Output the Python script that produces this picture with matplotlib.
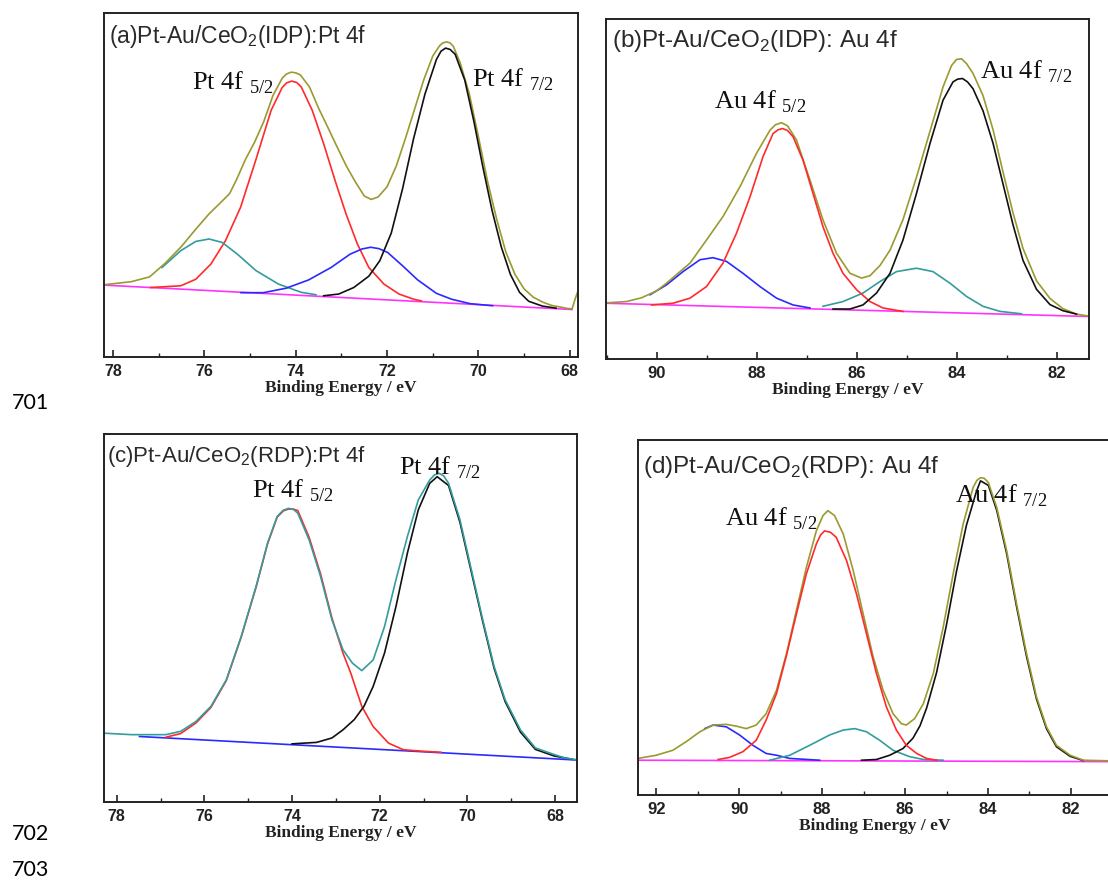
import matplotlib.pyplot as plt
from matplotlib.ticker import MultipleLocator

plt.rcParams['mathtext.fontset'] = 'custom'
plt.rcParams['mathtext.rm'] = 'Liberation Serif'
plt.rcParams['mathtext.sf'] = 'Liberation Sans'

# colours of the fitted curves
c_env = '#9a9a30'
c_red = '#ff2a2a'
c_blk = '#111111'
c_teal = '#339c9c'
c_blue = '#2a2aff'
c_mag = '#ff33ff'

# ---------------- (a) Pt 4f, IDP ----------------
a_base_x = [78.2, 67.95]
a_base_y = [20.9, 13.8]
a_env_x = [78.2, 77.6, 77.2, 76.85, 76.5, 76.2, 75.9, 75.6, 75.45, 75.3, 75.1, 74.9, 74.7, 74.5,
           74.3, 74.2, 74.1, 74.0, 73.9, 73.7, 73.5, 73.3, 73.1, 72.9, 72.7, 72.5, 72.35, 72.2, 72.0,
           71.8, 71.6, 71.4, 71.2, 71.0, 70.85, 70.78, 70.7, 70.62, 70.55, 70.4, 70.2, 70.0, 69.8,
           69.6, 69.4, 69.2, 69.0, 68.8, 68.6, 68.4, 68.2, 68.05, 67.95, 67.88, 67.83]
a_env_y = [21.0, 21.9, 23.3, 27.4, 32.2, 37.0, 41.6, 45.5, 47.5, 51.5, 57.5, 62.5, 68.5, 76.0,
           81.0, 82.3, 82.8, 82.6, 82.0, 78.5, 72.3, 66.8, 61.2, 55.7, 51.0, 46.8, 45.8, 46.5, 49.5,
           55.5, 63.5, 72.0, 80.5, 87.5, 90.5, 91.3, 91.6, 91.3, 90.3, 85.5, 76.5, 64.0, 51.0,
           40.0, 30.5, 24.0, 19.8, 17.4, 16.0, 15.0, 14.5, 14.1, 14.0, 17.0, 18.8]
a_red_x = [77.18, 76.52, 76.19, 75.86, 75.54, 75.21, 74.88, 74.54, 74.3, 74.2, 74.09, 73.98,
           73.88, 73.64, 73.39, 73.14, 72.9, 72.65, 72.4, 72.07, 71.74, 71.42, 71.25]
a_red_y = [20.2, 20.7, 22.6, 27.0, 33.8, 43.5, 57.1, 71.7, 78.3, 79.7, 80.2, 79.8,
           78.5, 71.7, 62.0, 51.3, 41.6, 32.8, 26.0, 21.2, 18.3, 16.8, 16.3]
a_blk_x = [73.39, 73.06, 72.73, 72.4, 72.16, 71.91, 71.66, 71.42, 71.17, 70.92, 70.82, 70.72,
           70.62, 70.51, 70.3, 70.1, 69.9, 69.7, 69.5, 69.3, 69.1, 68.9, 68.6, 68.3]
a_blk_y = [17.8, 18.3, 20.2, 23.5, 28.0, 36.0, 49.0, 63.5, 76.5, 86.5, 88.9, 89.8,
           89.4, 88.0, 80.5, 68.5, 55.0, 42.5, 32.0, 24.0, 18.8, 16.2, 14.8, 14.2]
a_teal_x = [76.93, 76.52, 76.19, 75.9, 75.61, 75.28, 74.87, 74.38, 73.88, 73.56]
a_teal_y = [26.0, 30.9, 33.6, 34.3, 33.3, 29.9, 25.1, 21.2, 18.8, 18.1]
a_blue_x = [75.2, 74.71, 74.21, 73.72, 73.23, 72.81, 72.55, 72.36, 72.18, 71.99, 71.66, 71.33,
            70.92, 70.59, 70.18, 69.69]
a_blue_y = [18.7, 18.7, 20.0, 22.4, 26.0, 29.9, 31.4, 31.9, 31.5, 30.4, 26.5, 22.4,
            18.5, 16.8, 15.5, 14.9]

# ---------------- (b) Au 4f, IDP ----------------
b_base_x = [91.01, 81.35]
b_base_y = [16.4, 12.5]
b_env_x = [91.01, 90.6, 90.3, 90.0, 89.8, 89.33, 89.0, 88.67, 88.33, 88.0, 87.73, 87.62, 87.5,
           87.38, 87.2, 86.93, 86.67, 86.4, 86.13, 85.9, 85.73, 85.53, 85.33, 85.07, 84.8, 84.53,
           84.27, 84.1, 84.0, 83.9, 83.8, 83.67, 83.47, 83.27, 83.07, 82.87, 82.67, 82.4, 82.13,
           81.87, 81.6, 81.35]
b_env_y = [16.5, 16.9, 18.0, 20.0, 22.3, 28.2, 35.0, 41.9, 50.7, 60.5, 67.3, 68.9, 69.5,
           68.6, 64.4, 52.6, 40.9, 31.1, 25.2, 23.8, 24.5, 27.5, 32.0, 41.0, 53.5, 67.0,
           80.0, 86.3, 88.1, 88.3, 86.9, 84.0, 77.5, 67.5, 55.0, 43.0, 32.5, 23.0, 17.8,
           14.8, 13.2, 12.6]
b_red_x = [90.1, 89.67, 89.33, 89.0, 88.67, 88.4, 88.13, 87.87, 87.67, 87.57, 87.48, 87.38,
           87.27, 87.07, 86.87, 86.67, 86.47, 86.27, 86.0, 85.73, 85.47, 85.07]
b_red_y = [15.9, 16.4, 17.9, 21.3, 28.2, 37.0, 47.7, 59.5, 66.3, 67.4, 67.8, 67.2,
           65.4, 58.5, 48.7, 38.9, 31.1, 25.2, 20.4, 16.9, 15.0, 14.0]
b_blue_x = [90.13, 89.8, 89.47, 89.13, 88.87, 88.6, 88.27, 87.93, 87.6, 87.27, 86.93]
b_blue_y = [18.9, 21.8, 25.7, 29.2, 29.8, 28.7, 25.2, 21.3, 17.9, 15.9, 15.0]
b_blk_x = [86.47, 86.13, 85.87, 85.6, 85.33, 85.07, 84.8, 84.53, 84.27, 84.07, 83.98, 83.88,
           83.78, 83.67, 83.47, 83.27, 83.07, 82.87, 82.67, 82.4, 82.13, 81.87, 81.6]
b_blk_y = [14.7, 14.7, 15.9, 19.4, 25.2, 35.0, 48.7, 63.4, 76.1, 81.5, 82.3, 82.5,
           81.5, 79.5, 73.0, 63.5, 51.5, 39.5, 29.0, 20.5, 16.0, 14.2, 13.2]
b_teal_x = [86.67, 86.27, 85.87, 85.53, 85.2, 84.8, 84.47, 84.13, 83.8, 83.47, 83.13, 82.7]
b_teal_y = [15.5, 16.9, 19.4, 22.8, 25.7, 26.7, 25.7, 22.3, 18.4, 15.5, 14.0, 13.3]

# ---------------- (c) Pt 4f, RDP ----------------
c_base_x = [77.48, 67.5]
c_base_y = [17.8, 11.4]
c_env_x = [78.29, 77.66, 76.88, 76.54, 76.19, 75.85, 75.5, 75.16, 74.82, 74.56, 74.34, 74.2,
           74.08, 73.97, 73.87, 73.61, 73.35, 73.09, 72.84, 72.62, 72.41, 72.15, 71.89, 71.63,
           71.37, 71.12, 70.86, 70.75, 70.64, 70.54, 70.43, 70.17, 69.91, 69.65, 69.39, 69.14,
           68.79, 68.45, 68.02, 67.76, 67.5]
c_env_y = [18.7, 18.3, 18.3, 19.2, 21.9, 26.0, 33.2, 45.0, 58.6, 70.3, 77.6, 79.3,
           79.8, 79.5, 78.5, 71.2, 61.3, 49.5, 41.4, 37.7, 35.7, 38.6, 47.7, 60.4,
           72.1, 82.1, 87.5, 88.9, 89.3, 88.6, 86.6, 76.7, 63.1, 49.5, 36.8, 27.8,
           19.6, 14.7, 12.9, 11.9, 11.5]
c_red_x = [76.88, 76.54, 76.19, 75.85, 75.5, 75.16, 74.82, 74.56, 74.34, 74.2, 74.08, 73.97,
           73.87, 73.61, 73.35, 73.09, 72.84, 72.66, 72.41, 72.15, 71.8, 71.46, 71.03, 70.6]
c_red_y = [17.6, 18.6, 21.5, 25.7, 33.0, 44.8, 58.4, 70.1, 77.4, 79.1, 79.6, 79.6,
           79.2, 71.9, 62.0, 50.0, 40.5, 35.0, 26.0, 20.5, 16.0, 14.2, 13.8, 13.5]
c_blk_x = [74.0, 73.44, 73.09, 72.84, 72.58, 72.36, 72.15, 71.89, 71.63, 71.37, 71.12, 70.86,
           70.69, 70.43, 70.17, 69.91, 69.65, 69.39, 69.14, 68.79, 68.45, 68.02, 67.6]
c_blk_y = [15.8, 16.2, 17.4, 19.6, 22.4, 26.0, 31.4, 40.5, 53.1, 67.6, 79.4, 86.6,
           88.4, 86.0, 76.0, 62.5, 49.0, 36.3, 27.3, 19.0, 14.3, 12.5, 11.6]

# ---------------- (d) Au 4f, RDP ----------------
d_base_x = [92.44, 81.11]
d_base_y = [9.8, 9.4]
d_env_x = [92.44, 92.0, 91.6, 91.28, 90.95, 90.63, 90.31, 90.07, 89.83, 89.59, 89.35, 89.1,
           88.86, 88.62, 88.38, 88.14, 87.98, 87.86, 87.7, 87.49, 87.25, 87.01, 86.77, 86.53,
           86.29, 86.09, 85.97, 85.77, 85.56, 85.32, 85.08, 84.84, 84.6, 84.36, 84.27, 84.18,
           84.09, 83.99, 83.79, 83.55, 83.31, 83.07, 82.83, 82.59, 82.35, 82.02, 81.7, 81.0]
d_env_y = [10.3, 11.2, 12.6, 15.0, 17.8, 19.7, 19.9, 19.4, 18.7, 19.7, 22.9, 29.5,
           39.8, 52.0, 64.1, 74.4, 78.7, 80.1, 78.7, 73.5, 63.2, 51.0, 38.9, 29.5,
           22.9, 20.1, 19.7, 21.5, 25.7, 34.2, 47.3, 62.3, 76.3, 86.6, 88.6, 89.4,
           89.2, 88.0, 81.0, 68.8, 53.8, 39.8, 27.6, 19.2, 14.0, 11.2, 9.8, 9.6]
d_red_x = [90.51, 90.23, 89.91, 89.59, 89.35, 89.1, 88.86, 88.62, 88.38, 88.14, 88.04, 87.94,
           87.8, 87.66, 87.41, 87.17, 86.93, 86.69, 86.45, 86.21, 85.97, 85.72, 85.48, 85.24]
d_red_y = [10.0, 10.6, 12.2, 15.4, 21.1, 28.6, 39.3, 51.0, 62.3, 70.7, 73.2, 74.4,
           74.0, 72.6, 66.0, 56.6, 45.4, 34.2, 24.8, 18.3, 14.0, 11.7, 10.3, 9.8]
d_blue_x = [90.83, 90.63, 90.31, 89.99, 89.67, 89.35, 89.1, 88.78, 88.06]
d_blue_y = [18.7, 19.7, 19.2, 16.9, 14.0, 11.7, 11.2, 10.3, 9.8]
d_teal_x = [89.26, 88.78, 88.3, 87.82, 87.49, 87.21, 86.93, 86.61, 86.29, 85.89, 85.56, 85.08]
d_teal_y = [9.8, 11.2, 14.0, 16.9, 18.3, 18.7, 17.8, 15.4, 12.6, 10.8, 10.0, 9.8]
d_blk_x = [87.05, 86.69, 86.37, 86.05, 85.81, 85.64, 85.48, 85.24, 85.0, 84.76, 84.52, 84.28,
           84.18, 83.99, 83.79, 83.55, 83.31, 83.07, 82.83, 82.59, 82.35, 82.02, 81.7]
d_blk_y = [9.8, 10.0, 11.2, 13.1, 16.0, 19.5, 24.5, 34.5, 48.0, 63.0, 76.0, 85.5,
           88.5, 87.2, 80.2, 68.0, 53.0, 39.0, 27.0, 18.7, 13.6, 10.9, 9.7]

W, H = 1108, 886
fig = plt.figure(figsize=(W / 100, H / 100), dpi=100)


def make_panel(box, xlim, curves, title, title_pos, title_fs, peaks, tick_fs):
	# box is (left, top, right, bottom) in figure pixels
	l, t, r, b = box
	ax = fig.add_axes([l / W, (H - b) / H, (r - l) / W, (b - t) / H])
	for xs, ys, col in curves:
		ax.plot(xs, ys, color=col, lw=1.2)
	ax.set_xlim(*xlim)
	ax.set_ylim(0, 100)
	ax.set_yticks([])
	ax.xaxis.set_major_locator(MultipleLocator(2))
	ax.xaxis.set_minor_locator(MultipleLocator(1))
	ax.tick_params(axis='x', which='both', direction='in', top=False, colors='#222222')
	ax.tick_params(axis='x', which='major', length=5, width=1.2, pad=5, labelsize=tick_fs)
	ax.tick_params(axis='x', which='minor', length=3, width=1.0)
	for lab in ax.get_xticklabels():
		lab.set_fontweight('bold')
		lab.set_family('Liberation Sans')
	for sp in ax.spines.values():
		sp.set_linewidth(1.4)
		sp.set_color('#222222')
	ax.set_xlabel('Binding Energy / eV', family='Liberation Serif', weight='bold',
				  size=12.5, labelpad=1, color='#222222')
	ax.text(title_pos[0], title_pos[1], title, family='Liberation Sans', size=title_fs,
			color='#2a2a2a', va='baseline', ha='left')
	for px, py, s in peaks:
		ax.text(px, py, s, family='Liberation Serif', size=19, color='#111111',
				va='baseline', ha='left')
	return ax


make_panel((104, 13, 578, 357), (78.2, 67.82),
		   [(a_base_x, a_base_y, c_mag), (a_red_x, a_red_y, c_red), (a_teal_x, a_teal_y, c_teal),
			(a_blue_x, a_blue_y, c_blue), (a_env_x, a_env_y, c_env), (a_blk_x, a_blk_y, c_blk)],
		   r'(a)Pt-Au/CeO$_{\mathsf{2}}$(IDP):Pt 4f', (78.08, 91.2), 16.5,
		   [(76.27, 77.7, r'Pt 4f $_{5/2}$'), (70.14, 78.7, r'Pt 4f $_{7/2}$')], 11.5)

make_panel((606, 19, 1089, 359), (91.01, 81.35),
		   [(b_base_x, b_base_y, c_mag), (b_blue_x, b_blue_y, c_blue), (b_teal_x, b_teal_y, c_teal),
			(b_env_x, b_env_y, c_env), (b_red_x, b_red_y, c_red), (b_blk_x, b_blk_y, c_blk)],
		   r'(b)Pt-Au/CeO$_{\mathsf{2}}$(IDP): Au 4f', (90.9, 91.8), 17.5,
		   [(88.85, 73.7, r'Au 4f $_{5/2}$'), (83.53, 82.5, r'Au 4f $_{7/2}$')], 12)

# in (c) the teal envelope lies on top of the red and black components
make_panel((104, 434, 577, 802), (78.29, 67.5),
		   [(c_base_x, c_base_y, c_blue), (c_red_x, c_red_y, c_red), (c_blk_x, c_blk_y, c_blk),
			(c_env_x, c_env_y, c_teal)],
		   r'(c)Pt-Au/CeO$_{\mathsf{2}}$(RDP):Pt 4f', (78.22, 92.5), 16,
		   [(74.92, 82.8, r'Pt 4f $_{5/2}$'), (71.56, 88.9, r'Pt 4f $_{7/2}$')], 11.5)

make_panel((638, 440, 1112, 795), (92.44, 81.01),
		   [(d_base_x, d_base_y, c_mag), (d_blue_x, d_blue_y, c_blue), (d_teal_x, d_teal_y, c_teal),
			(d_blk_x, d_blk_y, c_blk), (d_env_x, d_env_y, c_env), (d_red_x, d_red_y, c_red)],
		   r'(d)Pt-Au/CeO$_{\mathsf{2}}$(RDP): Au 4f', (92.32, 90.8), 17.5,
		   [(90.35, 75.8, r'Au 4f $_{5/2}$'), (84.8, 82.4, r'Au 4f $_{7/2}$')], 12)

# document line numbers on the left
for num, ypix in [('701', 403), ('702', 834), ('703', 870)]:
	fig.text(12 / W, 1 - ypix / H, num, family='Lato', size=15.5, va='center', ha='left')

fig.savefig('out.png', dpi=100)
